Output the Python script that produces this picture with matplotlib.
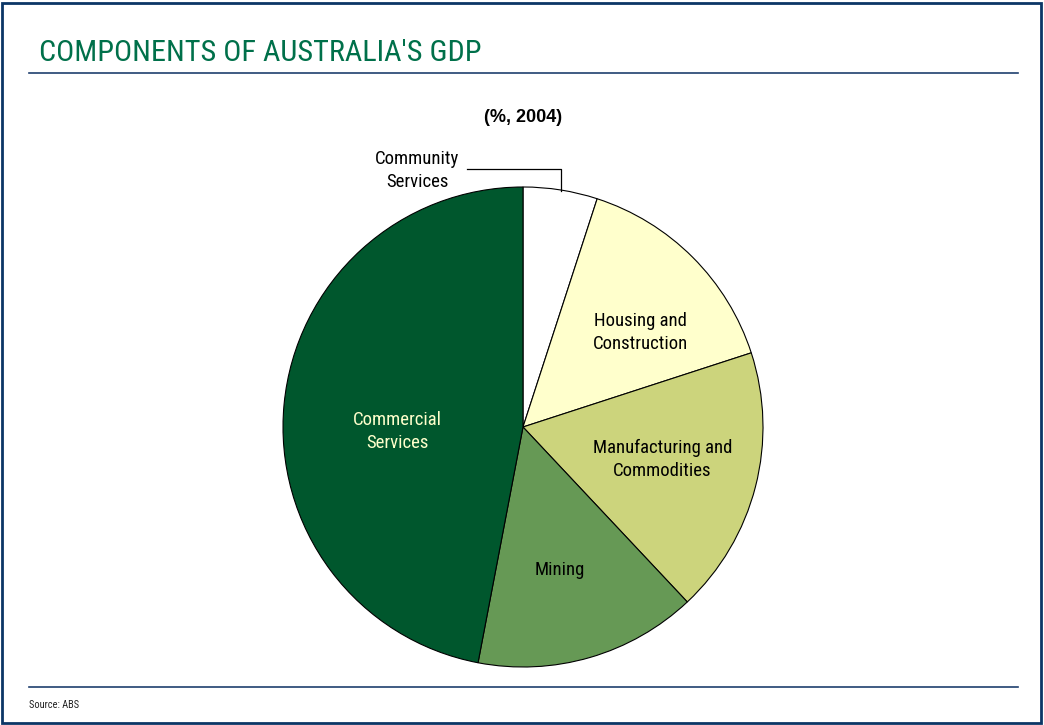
import matplotlib
matplotlib.use('Agg')
import matplotlib.pyplot as plt
from matplotlib.patches import Rectangle
from matplotlib.lines import Line2D

plt.rcParams['font.family'] = ['Roboto Condensed', 'Liberation Sans', 'DejaVu Sans']

# Data (% of GDP, 2004), clockwise from 12 o'clock
sectors = ['Community\nServices', 'Housing and\nConstruction', 'Manufacturing and\nCommodities',
           'Mining', 'Commercial\nServices']
shares = [5, 15, 18, 15, 47]
colors = ['#FFFFFF', '#FFFFCC', '#CCD47C', '#669955', '#00572D']

W, H = 1044, 725
fig = plt.figure(figsize=(W / 100, H / 100), dpi=100)

# frame and rules
fig.add_artist(Rectangle((2 / W, 2 / H), 1 - 5 / W, 1 - 5 / H, transform=fig.transFigure,
                         fill=False, edgecolor='#0B3666', linewidth=2))
fig.add_artist(Line2D([29 / W, 1018 / W], [1 - 73 / H] * 2, color='#1F3F6E', linewidth=1.2))
fig.add_artist(Line2D([29 / W, 1018 / W], [1 - 687 / H] * 2, color='#1F3F6E', linewidth=1.2))

fig.text(39 / W, 1 - 53 / H, "COMPONENTS OF AUSTRALIA'S GDP", color='#00704A',
         fontsize=21.8, va='center', ha='left')
fig.text(523 / W, 1 - 118 / H, '(%, 2004)', fontsize=13, fontweight='bold',
         family=['Liberation Sans', 'DejaVu Sans'], ha='center', va='center')
fig.text(29 / W, 1 - 705 / H, 'Source: ABS', fontsize=7.5, ha='left', va='center', color='#222222')

# pie
cx, cy, r = 523, 427, 240
ax = fig.add_axes([(cx - r * 1.02) / W, (H - cy - r * 1.02) / H, 2.04 * r / W, 2.04 * r / H])
ax.pie(shares, colors=colors, startangle=90, counterclock=False, radius=1,
       wedgeprops=dict(edgecolor='black', linewidth=0.8))
ax.set_xlim(-1.02, 1.02)
ax.set_ylim(-1.02, 1.02)
ax.set_aspect('equal')
ax.axis('off')

lab_kw = dict(ha='center', va='center', fontsize=13.5, linespacing=1.35)
ax.text(0.49, 0.395, sectors[1], **lab_kw)
ax.text(0.58, -0.135, sectors[2], **lab_kw)
ax.text(0.155, -0.595, sectors[3], **lab_kw)
ax.text(-0.525, -0.02, sectors[4], color='#FFFFCC', **lab_kw)
ax.text(-0.44, 1.07, sectors[0], clip_on=False, **lab_kw)
ax.plot([-0.235, 0.16, 0.16], [1.075, 1.075, 0.985], color='black', linewidth=0.9, clip_on=False)

fig.savefig('out.png', dpi=100)
